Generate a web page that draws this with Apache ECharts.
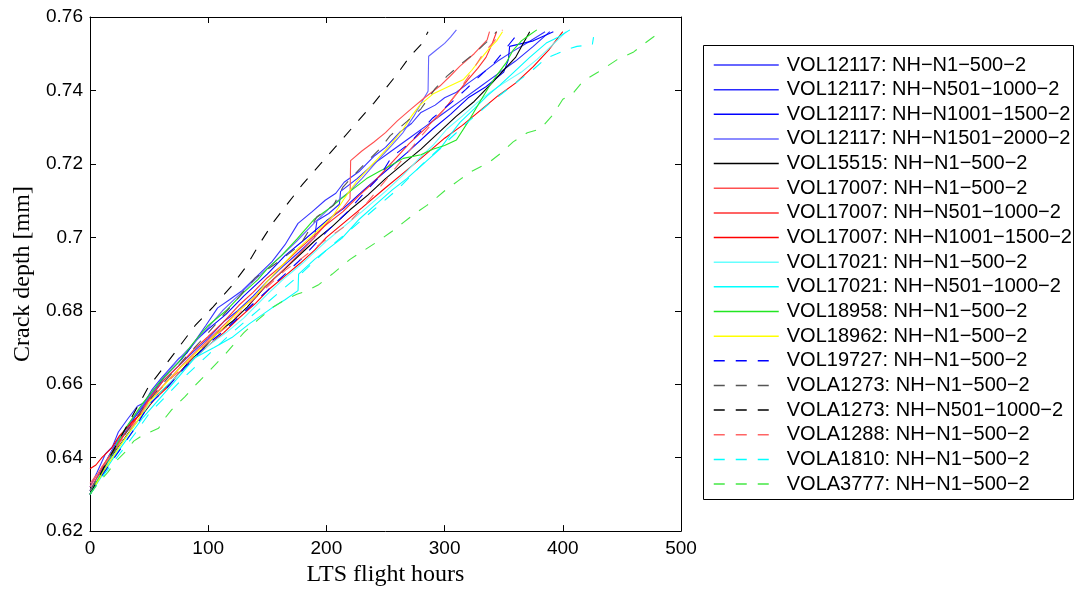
<!DOCTYPE html>
<html>
<head>
<meta charset="utf-8">
<script src="https://cdn.jsdelivr.net/npm/echarts@6/dist/echarts.min.js"></script>
<style>
html,body{margin:0;padding:0;background:#fff;}
#chart{width:1075px;height:592px;}
</style>
</head>
<body>
<div id="chart"></div>
<script>
// ---- Data (x: LTS flight hours, y: crack depth [mm]) ----
const xTicks = [0, 100, 200, 300, 400, 500];
const yTicks = [0.62, 0.64, 0.66, 0.68, 0.70, 0.72, 0.74, 0.76];

const seriesNames = [
  'VOL12117: NH\u2212N1\u2212500\u22122',
  'VOL12117: NH\u2212N501\u22121000\u22122',
  'VOL12117: NH\u2212N1001\u22121500\u22122',
  'VOL12117: NH\u2212N1501\u22122000\u22122',
  'VOL15515: NH\u2212N1\u2212500\u22122',
  'VOL17007: NH\u2212N1\u2212500\u22122',
  'VOL17007: NH\u2212N501\u22121000\u22122',
  'VOL17007: NH\u2212N1001\u22121500\u22122',
  'VOL17021: NH\u2212N1\u2212500\u22122',
  'VOL17021: NH\u2212N501\u22121000\u22122',
  'VOL18958: NH\u2212N1\u2212500\u22122',
  'VOL18962: NH\u2212N1\u2212500\u22122',
  'VOL19727: NH\u2212N1\u2212500\u22122',
  'VOLA1273: NH\u2212N1\u2212500\u22122',
  'VOLA1273: NH\u2212N501\u22121000\u22122',
  'VOLA1288: NH\u2212N1\u2212500\u22122',
  'VOLA1810: NH\u2212N1\u2212500\u22122',
  'VOLA3777: NH\u2212N1\u2212500\u22122'
];

const vol12117_a = [[0,0.632],[6,0.636],[13,0.641],[19,0.643],[24,0.647],[32,0.6506],[40,0.654],[46,0.655],[52,0.6583],[60,0.6615],[66,0.6637],[75,0.667],[82,0.6685],[89,0.6718],[98,0.676],[108,0.6808],[118,0.683],[128,0.6853],[140,0.689],[154,0.6934],[165,0.698],[176,0.7038],[188,0.707],[199,0.7101],[208,0.712],[215,0.715],[228,0.718],[240,0.722],[250,0.7245],[262,0.7286],[272,0.731],[280,0.734],[292,0.736],[300,0.738],[310,0.7395],[320,0.742],[333,0.745],[345,0.748],[357,0.7505],[370,0.753],[385,0.756]];
const vol12117_b = [[0,0.630],[8,0.635],[17,0.640],[28,0.646],[38,0.651],[50,0.656],[62,0.661],[75,0.665],[88,0.669],[100,0.6725],[113,0.677],[125,0.680],[138,0.684],[150,0.688],[163,0.692],[177,0.696],[190,0.700],[192,0.7045],[202,0.7065],[211,0.709],[212,0.7125],[226,0.716],[240,0.720],[255,0.7235],[270,0.727],[285,0.7305],[300,0.734],[315,0.7375],[330,0.741],[345,0.7445],[360,0.748],[375,0.752],[389,0.756]];
const vol12117_c = [[0,0.631],[10,0.637],[22,0.644],[35,0.650],[50,0.6565],[63,0.662],[78,0.667],[90,0.672],[100,0.675],[115,0.679],[130,0.684],[150,0.690],[165,0.695],[180,0.699],[200,0.7045],[215,0.708],[232,0.713],[250,0.718],[268,0.723],[290,0.7295],[305,0.7335],[320,0.738],[335,0.741],[350,0.745],[354,0.7484],[355,0.752],[375,0.7535],[392,0.756]];
const vol12117_d = [[0,0.631],[12,0.638],[25,0.6455],[37,0.651],[50,0.6565],[62,0.662],[75,0.6668],[88,0.6712],[100,0.6755],[112,0.680],[125,0.684],[138,0.688],[150,0.6915],[162,0.695],[175,0.699],[190,0.704],[206,0.709],[218,0.712],[230,0.716],[245,0.7215],[255,0.725],[265,0.7286],[274,0.733],[282,0.7376],[286,0.7398],[286.5,0.7493],[293,0.751],[300,0.7528],[305,0.7545],[310,0.7565]];
const vol15515 = [[0,0.630],[10,0.6355],[20,0.641],[32,0.6465],[45,0.652],[57,0.657],[70,0.661],[82,0.6655],[95,0.6695],[108,0.674],[120,0.677],[133,0.681],[148,0.6865],[160,0.690],[175,0.6945],[190,0.699],[205,0.703],[220,0.7075],[235,0.7115],[250,0.716],[265,0.720],[280,0.724],[295,0.7285],[310,0.733],[325,0.737],[340,0.742],[350,0.7455],[360,0.749],[366,0.7525],[372,0.756]];
const vol17007_a = [[0,0.632],[10,0.6375],[22,0.643],[35,0.649],[50,0.6555],[63,0.660],[76,0.6645],[90,0.669],[100,0.672],[113,0.676],[126,0.680],[140,0.684],[150,0.687],[163,0.691],[177,0.6955],[190,0.700],[206,0.706],[214,0.708],[220,0.7105],[220.5,0.7209],[230,0.7235],[240,0.7259],[250,0.7285],[260,0.7317],[270,0.7345],[283,0.738],[296,0.7412],[305,0.744],[313,0.7466],[325,0.750],[336,0.7538],[338,0.756]];
const vol17007_b = [[0,0.631],[12,0.638],[25,0.6445],[38,0.650],[50,0.656],[62,0.661],[75,0.665],[88,0.6695],[100,0.673],[113,0.677],[126,0.6815],[138,0.685],[150,0.689],[163,0.6925],[176,0.6965],[188,0.700],[200,0.7035],[214,0.707],[228,0.7115],[240,0.715],[250,0.7185],[260,0.722],[270,0.7255],[285,0.730],[300,0.735],[310,0.739],[320,0.743],[328,0.746],[335,0.749],[340,0.7525],[344,0.756]];
const vol17007_c = [[0,0.637],[5,0.638],[10,0.640],[18,0.6425],[25,0.646],[35,0.6495],[45,0.6525],[55,0.656],[65,0.659],[75,0.663],[88,0.667],[100,0.6705],[113,0.674],[126,0.678],[140,0.682],[152,0.686],[165,0.6895],[178,0.693],[190,0.6965],[200,0.700],[215,0.704],[230,0.708],[250,0.7135],[265,0.7175],[280,0.7215],[300,0.727],[315,0.7305],[330,0.7345],[345,0.7385],[360,0.742],[375,0.7465],[388,0.751],[400,0.756]];
const vol17021_a = [[0,0.631],[12,0.637],[25,0.643],[38,0.649],[50,0.6545],[63,0.659],[76,0.663],[88,0.667],[100,0.6705],[115,0.674],[130,0.678],[150,0.6845],[165,0.689],[180,0.693],[200,0.699],[215,0.703],[230,0.707],[250,0.7125],[265,0.717],[280,0.722],[290,0.725],[302,0.7295],[315,0.733],[327,0.7365],[338,0.7394],[350,0.742],[365,0.745],[378,0.7484],[390,0.752],[403,0.756]];
const vol17021_b = [[0,0.630],[10,0.635],[20,0.640],[30,0.6445],[45,0.651],[60,0.6565],[75,0.662],[89,0.6673],[105,0.670],[120,0.6727],[135,0.6765],[154,0.6808],[165,0.683],[176,0.6855],[176.5,0.690],[190,0.694],[200,0.6965],[213,0.6997],[228,0.705],[244,0.7096],[256,0.713],[268,0.716],[282,0.720],[296,0.724],[305,0.728],[313,0.7313],[325,0.735],[336,0.7385],[347,0.7415],[358,0.7448],[372,0.749],[386,0.7529],[396,0.7545],[406,0.7565]];
const vol18958 = [[0,0.630],[10,0.636],[20,0.642],[30,0.648],[45,0.655],[60,0.661],[75,0.666],[88,0.6715],[100,0.676],[115,0.680],[130,0.685],[142,0.6885],[150,0.6915],[162,0.695],[175,0.6995],[190,0.705],[205,0.7085],[220,0.7125],[234,0.716],[245,0.718],[254,0.7195],[265,0.7215],[280,0.7225],[290,0.724],[300,0.725],[310,0.7265],[320,0.7315],[330,0.737],[338,0.7412],[345,0.7445],[352,0.7475],[358,0.751],[365,0.7535],[370,0.7547],[378,0.7565]];
const vol18962 = [[0,0.630],[12,0.6365],[25,0.643],[38,0.649],[50,0.655],[62,0.6595],[75,0.664],[88,0.668],[100,0.6715],[113,0.6755],[126,0.680],[140,0.684],[150,0.688],[163,0.6925],[176,0.697],[190,0.701],[206,0.706],[215,0.7105],[225,0.715],[235,0.7185],[245,0.722],[255,0.7255],[265,0.7295],[272,0.733],[279,0.736],[290,0.739],[303,0.741],[316,0.743],[323,0.7455],[330,0.7484],[338,0.7515],[344,0.7535],[349,0.756]];
const vol19727 = [[0,0.630],[12,0.636],[25,0.642],[38,0.648],[50,0.6545],[65,0.659],[80,0.6645],[100,0.671],[115,0.675],[130,0.6795],[150,0.6855],[165,0.690],[180,0.6945],[200,0.7015],[218,0.707],[234,0.7128],[245,0.7165],[255,0.7218],[270,0.7255],[290,0.7325],[305,0.7365],[318,0.7403],[330,0.744],[342,0.7475],[352,0.7515],[361,0.7551]];
const vola1273_a = [[0,0.631],[15,0.639],[30,0.6465],[45,0.6535],[60,0.6595],[80,0.667],[100,0.674],[120,0.6815],[140,0.689],[160,0.6935],[178,0.698],[192,0.7056],[206,0.7087],[214,0.7137],[228,0.7186],[245,0.724],[254,0.7277],[268,0.7315],[280,0.735],[292,0.7405],[302,0.7439],[315,0.7475],[325,0.750],[335,0.753],[344,0.756]];
const vola1273_b = [[0,0.630],[12,0.6375],[25,0.645],[37,0.652],[49,0.659],[62,0.6645],[75,0.670],[89,0.676],[104,0.681],[120,0.6868],[132,0.692],[144,0.6985],[156,0.7045],[168,0.7095],[180,0.7145],[195,0.7200],[210,0.7255],[225,0.731],[240,0.7365],[250,0.7405],[260,0.7445],[270,0.749],[280,0.7525],[286,0.756]];
const vola1288 = [[0,0.633],[12,0.638],[25,0.644],[38,0.6495],[50,0.6555],[65,0.6605],[80,0.665],[100,0.6715],[115,0.6755],[130,0.6805],[150,0.6865],[165,0.691],[180,0.6945],[200,0.6995],[217,0.7033],[232,0.7085],[250,0.7155],[265,0.7215],[280,0.7275],[295,0.733],[313,0.7403],[324,0.7457],[333,0.7502],[341,0.753],[349,0.7565]];
const vola1810 = [[0,0.630],[12,0.6355],[25,0.641],[38,0.6465],[50,0.652],[65,0.657],[80,0.662],[100,0.668],[120,0.674],[140,0.6795],[160,0.685],[180,0.6905],[200,0.6965],[220,0.702],[240,0.7075],[260,0.713],[280,0.7195],[300,0.7255],[320,0.7315],[340,0.737],[352,0.740],[364,0.743],[375,0.7457],[386,0.7488],[395,0.750],[403,0.7511],[412,0.752],[425,0.7525],[426,0.7545]];
const vola3777 = [[0,0.630],[8,0.6335],[15,0.636],[22,0.639],[30,0.6416],[37,0.6445],[44,0.646],[51,0.647],[58,0.648],[64,0.651],[69,0.653],[80,0.6565],[90,0.660],[102,0.664],[114,0.668],[122,0.671],[130,0.674],[142,0.6775],[154,0.6808],[165,0.683],[175,0.6845],[184,0.6855],[193,0.687],[205,0.690],[220,0.694],[232,0.6965],[244,0.699],[255,0.7015],[265,0.704],[275,0.7065],[285,0.7087],[294,0.711],[302,0.7132],[312,0.7155],[322,0.7178],[338,0.7205],[348,0.723],[358,0.726],[370,0.7285],[381,0.7295],[392,0.7335],[400,0.7376],[408,0.739],[417,0.7425],[430,0.745],[446,0.7484],[460,0.7505],[470,0.753],[479,0.7551]];

const seriesData = [vol12117_a, vol12117_b, vol12117_c, vol12117_d, vol15515,
  vol17007_a, vol17007_b, vol17007_c, vol17021_a, vol17021_b, vol18958, vol18962,
  vol19727, vola1273_a, vola1273_b, vola1288, vola1810, vola3777];
const seriesColors = ['#3535ff','#2a2aff','#0000ff','#6464ff','#000000',
  '#ff5050','#ff3030','#ff0000','#66ffff','#00ffff','#22e622','#ffff00',
  '#0000ff','#555555','#000000','#ff6464','#00ffff','#44e844'];
const seriesDashed = [false,false,false,false,false,false,false,false,false,false,false,false,
  true,true,true,true,true,true];

const chart = echarts.init(document.getElementById('chart'), null, {renderer: 'canvas'});

const series = seriesData.map((d, i) => ({
  name: seriesNames[i],
  type: 'line',
  data: d,
  xAxisIndex: 0,
  yAxisIndex: 0,
  symbol: 'none',
  showSymbol: false,
  smooth: false,
  silent: true,
  color: seriesColors[i],
  lineStyle: { color: seriesColors[i], width: 1.1, type: seriesDashed[i] ? [11, 11] : 'solid' }
}));

const axisCommon = {
  type: 'value',
  axisLine: { show: true, onZero: false, lineStyle: { color: '#000', width: 1 } },
  axisTick: { show: true, inside: true, length: 6, lineStyle: { color: '#000', width: 1 } },
  splitLine: { show: false }
};

const option = {
  animation: false,
  backgroundColor: '#fff',
  grid: { left: 90, top: 17, width: 591, height: 518, containLabel: false },
  xAxis: [
    Object.assign({}, axisCommon, {
      position: 'bottom', min: xTicks[0], max: xTicks[xTicks.length - 1], interval: 100,
      axisLabel: { show: true, color: '#000', fontFamily: 'Liberation Sans', fontSize: 19, margin: 8 },
      name: 'LTS flight hours', nameLocation: 'middle', nameGap: 29,
      nameTextStyle: { color: '#000', fontFamily: 'Liberation Serif', fontSize: 24 }
    }),
    Object.assign({}, axisCommon, {
      position: 'top', min: xTicks[0], max: xTicks[xTicks.length - 1], interval: 100,
      axisLabel: { show: false }
    })
  ],
  yAxis: [
    Object.assign({}, axisCommon, {
      position: 'left', min: yTicks[0], max: yTicks[yTicks.length - 1], interval: 0.02,
      axisLabel: { show: true, color: '#000', fontFamily: 'Liberation Sans', fontSize: 19, margin: 7,
        formatter: v => String(+v.toFixed(2)) },
      name: 'Crack depth [mm]', nameLocation: 'middle', nameGap: 51,
      nameTextStyle: { color: '#000', fontFamily: 'Liberation Serif', fontSize: 24 }
    }),
    Object.assign({}, axisCommon, {
      position: 'right', min: yTicks[0], max: yTicks[yTicks.length - 1], interval: 0.02,
      axisLabel: { show: false }
    })
  ],
  legend: {
    orient: 'vertical',
    left: 713,
    top: 55,
    padding: 0,
    itemWidth: 65,
    itemHeight: 14,
    itemGap: 4.65,
    selectedMode: false,
    itemStyle: { opacity: 0, borderWidth: 0 },
    lineStyle: { width: 1.5 },
    textStyle: { color: '#000', fontFamily: 'Liberation Sans', fontSize: 20, lineHeight: 20, padding: [0, 0, 0, 3] },
    data: seriesNames
  },
  graphic: [{
    type: 'rect',
    left: 701, top: 43,
    shape: { x: 0, y: 0, width: 370, height: 454 },
    style: { fill: 'none', stroke: '#000', lineWidth: 1 },
    z: 10
  }],
  series: series
};

chart.setOption(option);
</script>
</body>
</html>
